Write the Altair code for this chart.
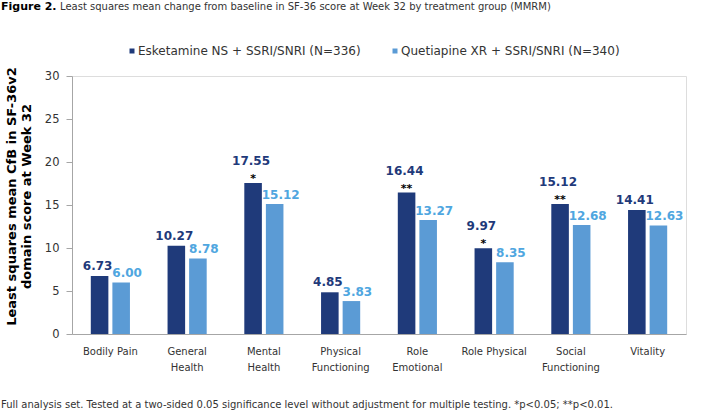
import altair as alt
import pandas as pd

domains = ["Bodily Pain", "General Health", "Mental Health", "Physical Functioning",
           "Role Emotional", "Role Physical", "Social Functioning", "Vitality"]
esketamine = [6.73, 10.27, 17.55, 4.85, 16.44, 9.97, 15.12, 14.41]
quetiapine = [6.00, 8.78, 15.12, 3.83, 13.27, 8.35, 12.68, 12.63]
significance = ["", "", "*", "", "**", "*", "**", ""]
groups = ["Esketamine NS + SSRI/SNRI (N=336)", "Quetiapine XR + SSRI/SNRI (N=340)"]
y_ticks = [0, 5, 10, 15, 20, 25, 30]

fig_label = "Figure 2."
fig_title = "Least squares mean change from baseline in SF-36 score at Week 32 by treatment group (MMRM)"
footnote = ("Full analysis set. Tested at a two-sided 0.05 significance level without adjustment "
            "for multiple testing. *p<0.05; **p<0.01.")
y_title = ["Least squares mean CfB in SF-36v2", "domain score  at Week 32"]

rows = []
for d, e, q, s in zip(domains, esketamine, quetiapine, significance):
    rows.append({"domain": d, "group": groups[0], "value": e, "sig": s, "label": f"{e:.2f}"})
    rows.append({"domain": d, "group": groups[1], "value": q, "sig": "", "label": f"{q:.2f}"})
df = pd.DataFrame(rows)

DARK = "#1f3a7a"
LIGHT = "#5b9bd5"
LIGHT_TXT = "#4fa6e0"
FONT = "DejaVu Sans"
W, H = 614, 258

x_enc = alt.X("domain:N", sort=domains,
              scale=alt.Scale(paddingInner=0.49, paddingOuter=0.245),
              axis=alt.Axis(title=None, labelAngle=0, ticks=False, domainColor="#a6a6a6",
                            labelFontSize=10, labelPadding=12, labelLineHeight=16,
                            labelColor="#333333", labelFont=FONT,
                            labelExpr="indexof(['Bodily Pain','Role Physical'], datum.label) >= 0 ? datum.label : split(datum.label, ' ')"))
xo_enc = alt.XOffset("group:N", sort=groups, scale=alt.Scale(paddingInner=0.186))
y_enc = alt.Y("value:Q", scale=alt.Scale(domain=[0, 30]),
              axis=alt.Axis(values=y_ticks, grid=False, title=y_title, titleFontSize=13,
                            titleFontWeight="bold", titleColor="black", titleFont=FONT,
                            titleLineHeight=15, titlePadding=11, titleY=120,
                            domainColor="#a6a6a6", tickColor="#a6a6a6", tickSize=6,
                            labelFontSize=11.5, labelPadding=7, labelColor="#333333", labelFont=FONT))

base = alt.Chart(df)

bars = base.mark_bar().encode(
    x=x_enc, xOffset=xo_enc, y=y_enc,
    color=alt.Color("group:N", sort=groups,
                    scale=alt.Scale(domain=groups, range=[DARK, LIGHT]),
                    legend=alt.Legend(title=None, orient="none", direction="horizontal",
                                      legendX=54, legendY=-31, symbolType="square",
                                      symbolSize=25, symbolStrokeWidth=0, labelFontSize=12,
                                      labelFont=FONT, labelColor="#333333", labelOffset=0,
                                      columnPadding=28, padding=0, labelLimit=400))
)

dark_plain = base.transform_filter(
    (alt.datum.group == groups[0]) & (alt.datum.sig == "")
).mark_text(baseline="alphabetic", dy=-6, dx=-2, fontSize=12, fontWeight="bold",
            font=FONT, color=DARK).encode(x=x_enc, xOffset=xo_enc, y=y_enc, text="label:N")

dark_sig = base.transform_filter(
    (alt.datum.group == groups[0]) & (alt.datum.sig != "")
).mark_text(baseline="alphabetic", dy=-18, dx=-2, fontSize=12, fontWeight="bold",
            font=FONT, color=DARK).encode(x=x_enc, xOffset=xo_enc, y=y_enc, text="label:N")

stars = base.transform_filter(
    (alt.datum.group == groups[0]) & (alt.datum.sig != "")
).mark_text(baseline="alphabetic", dy=-1, fontSize=11, fontWeight="bold",
            font=FONT, color="black").encode(x=x_enc, xOffset=xo_enc, y=y_enc, text="sig:N")

light_lbl = base.transform_filter(
    alt.datum.group == groups[1]
).mark_text(baseline="alphabetic", dy=-5, dx=6, fontSize=12, fontWeight="bold",
            font=FONT, color=LIGHT_TXT).encode(x=x_enc, xOffset=xo_enc, y=y_enc, text="label:N")

t1 = alt.Chart(pd.DataFrame({"t": [fig_label]})).mark_text(
    align="left", baseline="alphabetic", fontSize=11, fontWeight="bold", font=FONT, color="black"
).encode(x=alt.value(-71), y=alt.value(-66), text="t:N")

t2 = alt.Chart(pd.DataFrame({"t": [fig_title]})).mark_text(
    align="left", baseline="alphabetic", fontSize=10, font=FONT, color="#333333"
).encode(x=alt.value(-12), y=alt.value(-66), text="t:N")

foot = alt.Chart(pd.DataFrame({"t": [footnote]})).mark_text(
    align="left", baseline="alphabetic", fontSize=10, font=FONT, color="#333333"
).encode(x=alt.value(-71), y=alt.value(332), text="t:N")

chart = alt.layer(bars, dark_plain, dark_sig, stars, light_lbl, t1, t2, foot).properties(
    width=W, height=H,
    autosize=alt.AutoSizeParams(type="none"),
    padding={"left": 72, "top": 76, "right": 704 - 72 - W, "bottom": 420 - 76 - H},
).configure_view(stroke=None).configure(font=FONT)

chart.save("out.html", embed_options={"renderer": "svg", "actions": False})
